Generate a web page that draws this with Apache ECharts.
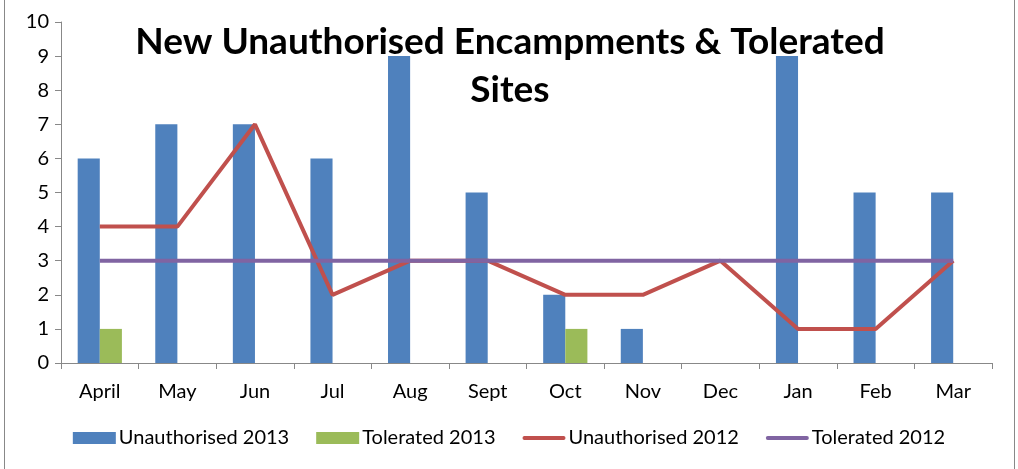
<!DOCTYPE html>
<html><head><meta charset="utf-8">
<script src="https://cdn.jsdelivr.net/npm/echarts@6/dist/echarts.min.js"></script>
<style>html,body{margin:0;padding:0;background:#fff}#c{width:1018px;height:469px}</style>
</head><body><div id="c"></div>
<script>
const categories = ['April','May','Jun','Jul','Aug','Sept','Oct','Nov','Dec','Jan','Feb','Mar'];
const unauth2013 = [6,7,7,6,9,5,2,1,0,9,5,5];
const tol2013 = [1,0,0,0,0,0,1,0,0,0,0,0];
const unauth2012 = [4,4,7,2,3,3,2,2,3,1,1,3];
const tol2012 = [3,3,3,3,3,3,3,3,3,3,3,3];
const yTicks = [0,1,2,3,4,5,6,7,8,9,10];

const font = 'Lato, "Open Sans", sans-serif';
const lineIcon = 'path://M2,0 H43 A2,2 0 0 1 43,4 H2 A2,2 0 0 1 2,0 Z';
const chart = echarts.init(document.getElementById('c'));
chart.setOption({
  animation: false,
  backgroundColor: '#fff',
  title: {
    text: 'New Unauthorised Encampments & Tolerated\nSites',
    left: 510, top: 18, textAlign: 'center', padding: 0,
    textStyle: {fontFamily: font, fontWeight: 'bold', fontSize: 37, lineHeight: 48, color: '#000'}
  },
  graphic: [{type: 'rect', shape: {x: 4.5, y: -2, width: 1010, height: 480}, style: {fill: 'none', stroke: '#888', lineWidth: 1}, silent: true}],
  grid: {left: 61, right: 26, top: 22, bottom: 106},
  legend: {
    bottom: 16, left: 'center', itemGap: 27, itemWidth: 43, itemHeight: 12,
    textStyle: {fontFamily: font, fontSize: 20, color: '#000', padding: [0,0,0,-2]},
    data: [
      {name: 'Unauthorised 2013', icon: 'rect'},
      {name: 'Tolerated 2013', icon: 'rect'},
      {name: 'Unauthorised 2012', icon: lineIcon},
      {name: 'Tolerated 2012', icon: lineIcon}
    ]
  },
  xAxis: {
    type: 'category', data: categories,
    axisLine: {lineStyle: {color: '#888'}},
    axisTick: {show: true, length: 6, lineStyle: {color: '#888'}},
    axisLabel: {fontFamily: font, fontSize: 20, color: '#000', margin: 19}
  },
  yAxis: {
    type: 'value', min: 0, max: 10, interval: 1,
    axisLine: {show: true, lineStyle: {color: '#888'}},
    axisTick: {show: true, length: 6, lineStyle: {color: '#888'}},
    splitLine: {show: false},
    axisLabel: {fontFamily: font, fontSize: 20, color: '#000', margin: 12,
      formatter: v => yTicks.includes(v) ? String(v) : ''}
  },
  series: [
    {name: 'Unauthorised 2013', type: 'bar', data: unauth2013, barGap: '0%', barCategoryGap: '43%',
     itemStyle: {color: '#4F81BD'}},
    {name: 'Tolerated 2013', type: 'bar', data: tol2013, barGap: '0%', barCategoryGap: '43%',
     itemStyle: {color: '#9BBB59'}},
    {name: 'Unauthorised 2012', type: 'line', data: unauth2012, symbol: 'none',
     lineStyle: {color: '#C0504D', width: 4}, itemStyle: {color: '#C0504D'}},
    {name: 'Tolerated 2012', type: 'line', data: tol2012, symbol: 'none',
     lineStyle: {color: '#8064A2', width: 4}, itemStyle: {color: '#8064A2'}}
  ]
});
</script></body></html>
